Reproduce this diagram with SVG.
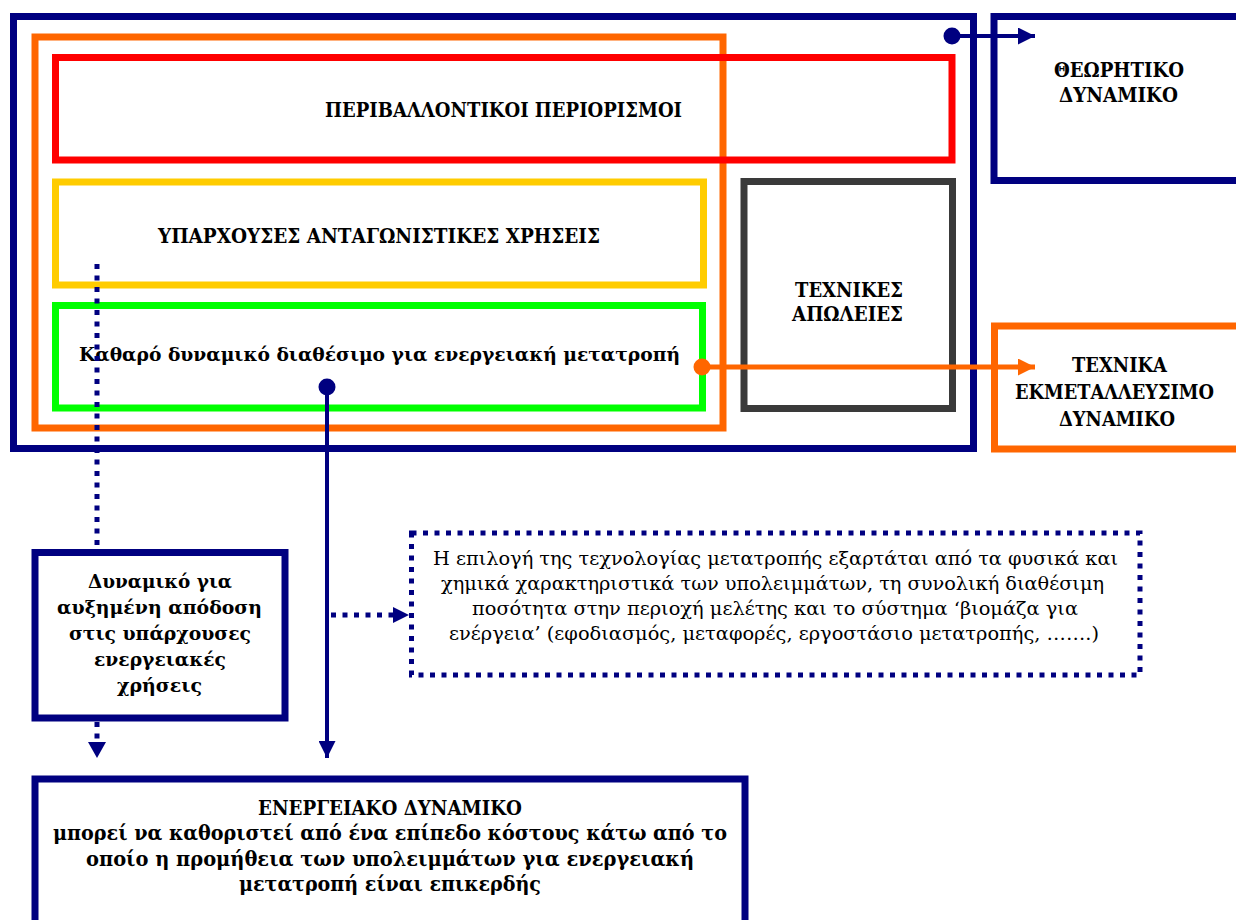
<svg xmlns="http://www.w3.org/2000/svg" width="1236" height="920" viewBox="0 0 1236 920">
<style>
.box{fill:none;stroke-width:7}
.navy{stroke:#000080}
.t{font-family:"DejaVu Serif","Liberation Serif",serif;font-weight:bold;font-size:19px;fill:#000;text-anchor:middle}
.c{font-size:20px}
.r{font-family:"DejaVu Serif","Liberation Serif",serif;font-size:18px;fill:#000;text-anchor:middle}
.dot{stroke:#000080;stroke-width:5;stroke-dasharray:5 6.5;fill:none}
</style>
<defs>
<marker id="an" viewBox="0 0 17 17" refX="17" refY="8.5" markerWidth="17" markerHeight="17" markerUnits="userSpaceOnUse" orient="auto"><path d="M0,0 L17,8.5 L0,17 Z" fill="#000080"/></marker>
<marker id="ao" viewBox="0 0 17 17" refX="17" refY="8.5" markerWidth="17" markerHeight="17" markerUnits="userSpaceOnUse" orient="auto"><path d="M0,0 L17,8.5 L0,17 Z" fill="#FF6600"/></marker>
</defs>
<rect width="1236" height="920" fill="#fff"/>
<g id="outer"><rect class="box navy" x="13.5" y="16.5" width="960" height="432"/></g>
<g id="orange-frame"><rect class="box" stroke="#FF6600" x="35" y="37" width="688" height="391"/></g>
<g id="env"><rect class="box" stroke="#FF0000" x="55.5" y="57.5" width="896.5" height="102.5"/>
<text class="t c" x="503.5" y="117" textLength="357" lengthAdjust="spacingAndGlyphs">ΠΕΡΙΒΑΛΛΟΝΤΙΚΟΙ ΠΕΡΙΟΡΙΣΜΟΙ</text></g>
<g id="uses"><rect class="box" stroke="#FFCC00" x="55.5" y="182" width="648" height="103"/>
<text class="t c" x="379" y="243" textLength="442" lengthAdjust="spacingAndGlyphs">ΥΠΑΡΧΟΥΣΕΣ ΑΝΤΑΓΩΝΙΣΤΙΚΕΣ ΧΡΗΣΕΙΣ</text></g>
<g id="net"><rect class="box" stroke="#00FF00" x="55.5" y="305.5" width="647" height="102.5"/>
<text class="t" x="379.5" y="361" textLength="601" lengthAdjust="spacingAndGlyphs">Καθαρό δυναμικό διαθέσιμο για ενεργειακή μετατροπή</text></g>
<g id="losses"><rect class="box" stroke="#3A3A3A" x="744" y="181.5" width="208.5" height="227"/>
<text class="t c" x="849" y="297" textLength="108" lengthAdjust="spacingAndGlyphs">ΤΕΧΝΙΚΕΣ</text><text class="t c" x="847.5" y="321" textLength="111" lengthAdjust="spacingAndGlyphs">ΑΠΩΛΕΙΕΣ</text></g>
<g id="theoretical"><rect class="box navy" x="994" y="16.5" width="260" height="164"/>
<text class="t c" x="1119" y="77" textLength="130" lengthAdjust="spacingAndGlyphs">ΘΕΩΡΗΤΙΚΟ</text><text class="t c" x="1118.5" y="102" textLength="119" lengthAdjust="spacingAndGlyphs">ΔΥΝΑΜΙΚΟ</text></g>
<g id="technical"><rect class="box" stroke="#FF6600" x="994.5" y="326" width="260" height="123"/>
<text class="t c" x="1119.5" y="372" textLength="95" lengthAdjust="spacingAndGlyphs">ΤΕΧΝΙΚΑ</text><text class="t c" x="1114.5" y="399" textLength="199" lengthAdjust="spacingAndGlyphs">ΕΚΜΕΤΑΛΛΕΥΣΙΜΟ</text><text class="t c" x="1117" y="426" textLength="116" lengthAdjust="spacingAndGlyphs">ΔΥΝΑΜΙΚΟ</text></g>
<g id="efficiency"><rect class="box navy" x="35" y="552.5" width="250" height="165.5"/>
<text class="t" x="160" y="588" textLength="144" lengthAdjust="spacingAndGlyphs">Δυναμικό για</text>
<text class="t" x="159.5" y="614" textLength="205" lengthAdjust="spacingAndGlyphs">αυξημένη απόδοση</text>
<text class="t" x="160" y="640" textLength="182" lengthAdjust="spacingAndGlyphs">στις υπάρχουσες</text>
<text class="t" x="160" y="666" textLength="132" lengthAdjust="spacingAndGlyphs">ενεργειακές</text>
<text class="t" x="159.5" y="692" textLength="85" lengthAdjust="spacingAndGlyphs">χρήσεις</text></g>
<g id="note"><rect class="dot" stroke-width="6" x="411.5" y="533" width="728.5" height="142"/>
<text class="r" x="775.5" y="565" textLength="685" lengthAdjust="spacingAndGlyphs">Η επιλογή της τεχνολογίας μετατροπής εξαρτάται από τα φυσικά και</text>
<text class="r" x="772.5" y="590" textLength="663" lengthAdjust="spacingAndGlyphs">χημικά χαρακτηριστικά των υπολειμμάτων, τη συνολική διαθέσιμη</text>
<text class="r" x="775" y="615" textLength="606" lengthAdjust="spacingAndGlyphs">ποσότητα στην περιοχή μελέτης και το σύστημα ‘βιομάζα για</text>
<text class="r" x="774" y="640" textLength="650" lengthAdjust="spacingAndGlyphs">ενέργεια’ (εφοδιασμός, μεταφορές, εργοστάσιο μετατροπής, …….)</text></g>
<g id="energy"><rect class="box navy" x="35" y="779" width="710" height="200"/>
<text class="t c" x="390" y="815" textLength="264" lengthAdjust="spacingAndGlyphs">ΕΝΕΡΓΕΙΑΚΟ ΔΥΝΑΜΙΚΟ</text>
<text class="t c" x="390" y="840" textLength="674" lengthAdjust="spacingAndGlyphs">μπορεί να καθοριστεί από ένα επίπεδο κόστους κάτω από το</text>
<text class="t c" x="390" y="866" textLength="608" lengthAdjust="spacingAndGlyphs">οποίο η προμήθεια των υπολειμμάτων για ενεργειακή</text>
<text class="t c" x="390" y="891" textLength="302" lengthAdjust="spacingAndGlyphs">μετατροπή είναι επικερδής</text></g>
<g id="connectors">
<line x1="952" y1="36" x2="1035" y2="36" stroke="#000080" stroke-width="4" marker-end="url(#an)"/>
<circle cx="952" cy="36" r="8.5" fill="#000080"/>
<line x1="702" y1="367" x2="1035" y2="367" stroke="#FF6600" stroke-width="5" marker-end="url(#ao)"/>
<circle cx="702" cy="367" r="8.5" fill="#FF6600"/>
<line x1="327" y1="387" x2="327" y2="758" stroke="#000080" stroke-width="4" marker-end="url(#an)"/>
<circle cx="327" cy="387" r="8.5" fill="#000080"/>
<line class="dot" x1="97" y1="264" x2="97" y2="549"/>
<line class="dot" x1="97" y1="722" x2="97" y2="744"/>
<path d="M88,742 L106,742 L97,758 Z" fill="#000080"/>
<line class="dot" x1="331" y1="615" x2="395" y2="615"/>
<path d="M393,607 L409,615 L393,623 Z" fill="#000080"/>
</g>
</svg>
